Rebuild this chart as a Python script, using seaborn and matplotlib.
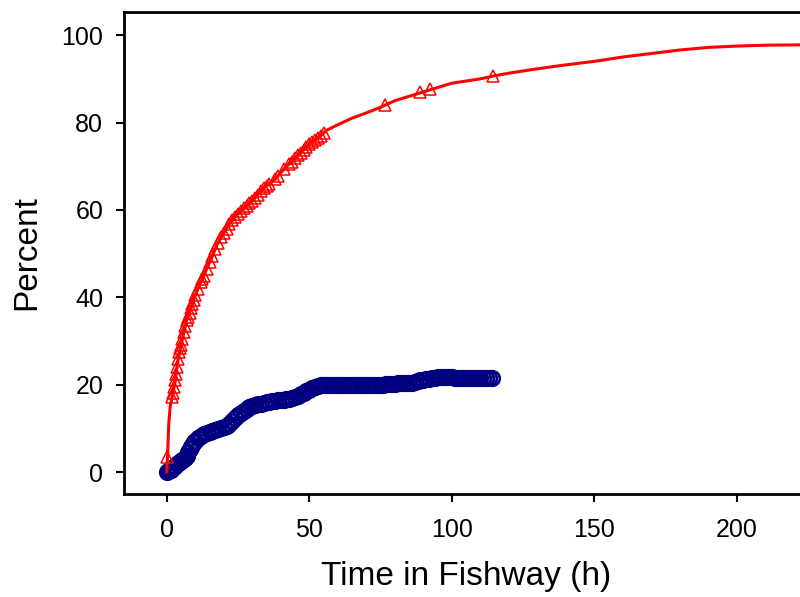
import matplotlib
matplotlib.use("Agg")
import matplotlib.pyplot as plt
import seaborn as sns

# Red series: continuous line
red_line_x = [0, 0.3, 0.7, 1.2, 2, 3, 4, 5, 6, 7, 8, 9, 10, 12, 13, 14, 16, 18, 20, 22, 24, 26, 28,
              30, 32, 34, 36, 38, 40, 42, 44, 46, 48, 50, 52, 54, 56, 60, 65, 70, 75, 80, 85, 90,
              95, 100, 110, 115, 120, 130, 140, 150, 160, 170, 180, 190, 200, 210, 225]
red_line_y = [0, 4, 11, 15, 17.5, 21, 26, 29, 32, 34.8, 36.5, 38.5, 40.5, 43.5, 45, 46.5, 49.5, 52.5,
              54.7, 56.8, 58.4, 59.8, 61, 62, 63.5, 65, 66, 67, 68.5, 70, 71, 72.5, 73.7, 75, 76, 77,
              78.2, 79.5, 81, 82.2, 83.5, 85, 86, 87, 88, 89, 90, 90.7, 91.3, 92.3, 93.2, 94, 95,
              95.8, 96.6, 97.2, 97.5, 97.7, 97.8]

# Red series: observed points (triangles)
red_pts_x = [0, 1.9, 2.2, 2.6, 3, 3.3, 3.6, 4, 4.3, 4.7, 5, 5.5, 6, 6.5, 7, 7.5, 8, 8.5, 9, 9.5, 10,
             11, 12, 12.5, 13, 14, 15, 16, 17, 18, 19, 20, 21, 22, 23, 24, 25, 26, 27, 28, 29, 30,
             31, 32, 33, 34, 35, 36, 38, 39, 41, 43, 44, 45, 46, 47, 48, 49, 50, 51, 52, 53, 54,
             55, 76.5, 88.8, 92.3, 114.5]
red_pts_y = [3.5, 17.2, 18, 19.5, 21, 22.5, 24, 26, 27.5, 28.5, 29, 30.5, 32, 33.5, 34.8, 35.5, 36.5,
             37.5, 38.5, 39.5, 40.5, 42, 43.5, 44.3, 45, 46.5, 48, 49.5, 51, 52.5, 53.7, 54.7, 55.7,
             56.8, 57.6, 58.4, 59, 59.8, 60.4, 61, 61.5, 62, 62.8, 63.5, 64.3, 65, 65.5, 66, 67,
             67.8, 69.3, 70.5, 71, 71.8, 72.5, 73.1, 73.7, 74.3, 75, 75.5, 76, 76.5, 77, 77.5,
             84, 87, 87.6, 90.6]

# Navy series (circles)
navy_x = [0, 0.5, 1, 1.5, 2, 2.5, 3, 3.5, 4, 4.5, 5, 5.5, 6, 6.5, 7, 7.5, 8, 8.5, 9, 9.5, 10, 11,
          12, 13, 14, 15, 16, 17, 18, 19, 20, 21, 22, 23, 24, 25, 26, 27, 28, 29, 30, 31, 32, 33,
          34, 35, 36, 37, 38, 39, 40, 41, 42, 43, 44, 45, 46, 47, 48, 49, 50, 51, 52, 53, 54, 55,
          56, 57, 58, 59, 60, 61, 62, 63, 64, 65, 66, 67, 68, 69, 70, 71, 72, 73, 74, 75, 76,
          77, 78, 79, 80, 81, 82, 83, 84, 85, 86, 87, 88, 89, 90, 91, 92, 93, 94, 95, 96, 97,
          98, 99, 100, 101, 102, 103, 104, 105, 106, 107, 108, 109, 110, 111, 112, 113, 114]
navy_y = [0, 0.2, 0.4, 0.6, 0.9, 1.2, 1.5, 1.8, 2.1, 2.4, 2.6, 2.8, 3.0, 3.3, 3.8, 4.5, 5.2, 5.8,
          6.3, 6.8, 7.2, 7.8, 8.3, 8.7, 9.0, 9.3, 9.5, 9.7, 9.9, 10.1, 10.3, 10.6, 11.0, 11.6,
          12.3, 13.0, 13.6, 14.0, 14.4, 14.8, 15.1, 15.3, 15.5, 15.7, 15.9, 16.0, 16.1, 16.2,
          16.3, 16.4, 16.5, 16.6, 16.7, 16.8, 16.9, 17.2, 17.5, 17.8, 18.1, 18.5, 18.9, 19.2,
          19.5, 19.7, 19.9, 20.0,
          20.0, 20.0, 20.0, 20.0, 20.0, 20.0, 20.0, 20.0, 20.0, 20.0, 20.0, 20.0, 20.0, 20.0,
          20.0, 20.0, 20.0, 20.0, 20.0, 20.0, 20.0,
          20.1, 20.2, 20.2, 20.2, 20.3, 20.4, 20.4, 20.4, 20.4, 20.5, 20.6, 20.8, 21.0, 21.2,
          21.3, 21.4, 21.5, 21.6, 21.7, 21.7, 21.7, 21.7, 21.7, 21.7, 21.6, 21.6, 21.6, 21.6,
          21.6, 21.6, 21.6, 21.6, 21.6, 21.6, 21.6, 21.6, 21.6, 21.6]

x_ticks = [0, 50, 100, 150, 200]
y_ticks = [0, 20, 40, 60, 80, 100]

sns.set_style("ticks")
plt.rcParams['font.family'] = ['Liberation Sans', 'DejaVu Sans']
plt.rcParams['text.color'] = 'black'
plt.rcParams['axes.labelcolor'] = 'black'
plt.rcParams['xtick.color'] = 'black'
plt.rcParams['ytick.color'] = 'black'

fig = plt.figure(figsize=(8, 5.97), dpi=100)
ax = fig.add_axes([124 / 800, 103 / 597, 684 / 800, 482 / 597])

sns.lineplot(x=navy_x, y=navy_y, ax=ax, color='#000080', linewidth=1.5, sort=False,
             estimator=None, marker='o', markersize=10.5, markerfacecolor='none',
             markeredgecolor='#000080', markeredgewidth=1.9)
sns.lineplot(x=red_line_x, y=red_line_y, ax=ax, color='#FF0000', linewidth=2.2, sort=False,
             estimator=None)
sns.lineplot(x=red_pts_x, y=red_pts_y, ax=ax, color='#FF0000', linestyle='', sort=False,
             estimator=None, marker='^', markersize=8.5, markerfacecolor='none',
             markeredgecolor='#FF0000', markeredgewidth=1.1)

ax.set_xlim(-15, 225)
ax.set_ylim(-5, 105.3)
ax.set_xticks(x_ticks)
ax.set_yticks(y_ticks)
ax.tick_params(axis='both', labelsize=18, length=6, width=1.5, direction='out')
ax.tick_params(axis='x', pad=11)
ax.tick_params(axis='y', pad=9)
ax.set_xlabel('Time in Fishway (h)', fontsize=24, labelpad=14)
ax.set_ylabel('Percent', fontsize=24, labelpad=14)
for sp in ax.spines.values():
    sp.set_linewidth(2)
    sp.set_color('black')

fig.savefig('out.png', dpi=100)
